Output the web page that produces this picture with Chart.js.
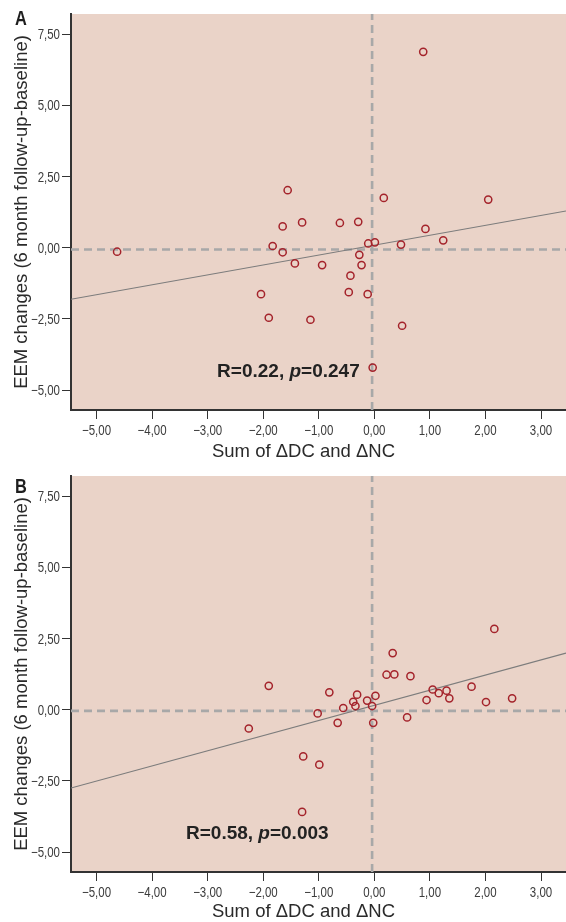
<!DOCTYPE html>
<html>
<head>
<meta charset="utf-8">
<script src="https://cdn.jsdelivr.net/npm/chart.js@4.4.1/dist/chart.umd.min.js"></script>
<style>
  html, body { margin: 0; padding: 0; background: #fff; }
  #wrap { position: relative; width: 566px; height: 922px; }
  .panel { position: absolute; left: 0; width: 566px; }
  #panel-a { top: 0; height: 460px; }
  #panel-b { top: 460px; height: 462px; }
  canvas { display: block; }
</style>
</head>
<body>
<div id="wrap">
  <div class="panel" id="panel-a"><canvas id="chart-a" width="566" height="460"></canvas></div>
  <div class="panel" id="panel-b"><canvas id="chart-b" width="566" height="462"></canvas></div>
</div>
<script>
// Axis ticks and ranges (shared by both panels)
const xTicks = [-5, -4, -3, -2, -1, 0, 1, 2, 3];
const yTicks = [-5, -2.5, 0, 2.5, 5, 7.5];
const xRange = [-5.46, 3.45];
const yRange = [-5.70, 8.21];

// Panel A
const aSumX = [-4.63, -2.04, -1.90, -1.83, -1.65, -1.65, -1.56, -1.43, -1.30, -1.15, -0.94, -0.62, -0.46, -0.43,
  -0.29, -0.27, -0.23, -0.12, -0.11, 0.01, -0.03, 0.17, 0.48, 0.50, 0.88, 0.92, 1.24, 2.05];
const aEem = [-0.14, -1.63, -2.46, 0.06, 0.75, -0.16, 2.02, -0.55, 0.89, -2.53, -0.61, 0.87, -1.56, -0.98,
  0.91, -0.25, -0.61, -1.63, 0.15, 0.19, -4.21, 1.75, 0.11, -2.74, 6.88, 0.66, 0.26, 1.69];
const aFit = [0.348, 0.09];      // slope, intercept
const aMean = [-0.04, -0.06];    // mean x, mean y
const aStats = ['0.22', '0.247']; // R, p

// Panel B
const bSumX = [-2.26, -1.90, -1.30, -1.28, -1.02, -0.99, -0.81, -0.66, -0.56, -0.38, -0.34, -0.31, -0.13, -0.04,
  -0.02, 0.02, 0.22, 0.33, 0.36, 0.59, 0.65, 0.94, 1.05, 1.16, 1.30, 1.35, 1.75, 2.01, 2.16, 2.48];
const bEem = [-0.66, 0.84, -3.59, -1.64, -0.13, -1.93, 0.61, -0.46, 0.06, 0.28, 0.13, 0.53, 0.32, 0.13,
  -0.46, 0.49, 1.23, 1.99, 1.24, -0.27, 1.18, 0.34, 0.71, 0.58, 0.67, 0.40, 0.81, 0.27, 2.84, 0.40];
const bFit = [0.532, 0.155];
const bMean = [-0.04, -0.04];
const bStats = ['0.58', '0.003'];

const xTitle = 'Sum of \u0394DC and \u0394NC';
const yTitle = 'EEM changes (6 month follow-up-baseline)';

(function() {
  'use strict';

  const SANS = '"Liberation Sans", Arial, sans-serif';
  const NARROW = 0.82; // horizontal squeeze to imitate a condensed face
  const PLOT_BG = '#EAD3C8';
  const AXIS = '#333333';
  const POINT = '#A4232B';
  const REF = '#A8A8A8';

  function fmt(v) {
    const s = Math.abs(v).toFixed(2).replace('.', ',');
    return v < 0 ? '\u2212' + s : s;
  }

  function narrowText(ctx, text, x, y) {
    ctx.save();
    ctx.translate(x, y);
    ctx.scale(NARROW, 1);
    ctx.fillText(text, 0, 0);
    ctx.restore();
  }

  // paints the plot background, tick labels and texts of each panel
  const panelPlugin = {
    id: 'panelText',
    beforeDraw(chart) {
      const { ctx, chartArea: a } = chart;
      ctx.save();
      ctx.fillStyle = PLOT_BG;
      ctx.fillRect(a.left, a.top, a.right - a.left, a.bottom - a.top);
      ctx.restore();
    },
    afterDraw(chart, args, o) {
      const { ctx, chartArea: a, scales } = chart;
      ctx.save();

      // tick labels
      ctx.fillStyle = '#3c3c3c';
      ctx.font = '14px ' + SANS;
      ctx.textBaseline = 'alphabetic';
      ctx.textAlign = 'center';
      scales.x.ticks.forEach(t => {
        narrowText(ctx, fmt(t.value), scales.x.getPixelForValue(t.value), a.bottom + 25);
      });
      ctx.textAlign = 'right';
      scales.y.ticks.forEach(t => {
        narrowText(ctx, fmt(t.value), 60, scales.y.getPixelForValue(t.value) + 5);
      });

      // panel letter
      ctx.fillStyle = '#1e1e1e';
      ctx.font = 'bold 20px ' + SANS;
      ctx.textAlign = 'left';
      narrowText(ctx, o.letter, 15, o.letterBase);

      // axis titles
      ctx.fillStyle = '#2a2a2a';
      ctx.font = '18.5px ' + SANS;
      ctx.textAlign = 'center';
      ctx.fillText(xTitle, 303.5, a.bottom + o.xTitleGap);
      ctx.save();
      ctx.translate(26.7, (a.top + a.bottom) / 2);
      ctx.rotate(-Math.PI / 2);
      ctx.fillText(yTitle, 0, 0);
      ctx.restore();

      // R / p annotation
      const x0 = scales.x.getPixelForValue(o.statX);
      const y0 = scales.y.getPixelForValue(o.statY);
      ctx.fillStyle = '#222';
      ctx.textAlign = 'left';
      ctx.textBaseline = 'middle';
      const parts = [
        ['bold 19px ' + SANS, 'R=' + o.stats[0] + ', '],
        ['italic bold 19px ' + SANS, 'p'],
        ['bold 19px ' + SANS, '=' + o.stats[1]]
      ];
      let x = x0;
      parts.forEach(p => {
        ctx.font = p[0];
        ctx.fillText(p[1], x, y0);
        x += ctx.measureText(p[1]).width;
      });
      ctx.restore();
    }
  };

  function makeChart(id, xs, ys, fit, mean, stats, opts) {
    const ctx = document.getElementById(id).getContext('2d');
    const points = xs.map((x, i) => ({ x: x, y: ys[i] }));
    const fitLine = xRange.map(x => ({ x: x, y: fit[0] * x + fit[1] }));
    const meanH = xRange.map(x => ({ x: x, y: mean[1] }));
    const meanV = yRange.map(y => ({ x: mean[0], y: y }));

    return new Chart(ctx, {
      type: 'scatter',
      data: {
        datasets: [
          {
            data: meanH, showLine: true, pointRadius: 0, borderColor: REF,
            borderWidth: 2.6, borderDash: [8, 5], order: 3
          },
          {
            data: meanV, showLine: true, pointRadius: 0, borderColor: REF,
            borderWidth: 2.6, borderDash: [8, 5], order: 3
          },
          {
            data: fitLine, showLine: true, pointRadius: 0, borderColor: '#7c7c7c',
            borderWidth: 1.2, order: 2
          },
          {
            data: points, showLine: false, pointRadius: 3.6, pointHoverRadius: 3.6,
            pointBorderWidth: 1.5, borderColor: POINT, pointBorderColor: POINT,
            backgroundColor: 'rgba(0,0,0,0)', pointBackgroundColor: 'rgba(0,0,0,0)', order: 1
          }
        ]
      },
      options: {
        responsive: false,
        animation: false,
        layout: { autoPadding: false, padding: { top: opts.top, left: 0, right: 0, bottom: 0 } },
        plugins: {
          legend: { display: false },
          tooltip: { enabled: false },
          panelText: {
            letter: opts.letter, letterBase: opts.letterBase, xTitleGap: opts.xTitleGap,
            statX: opts.statX, statY: opts.statY, stats: stats
          }
        },
        scales: {
          x: {
            type: 'linear',
            min: xRange[0], max: xRange[1],
            afterBuildTicks: s => { s.ticks = xTicks.map(v => ({ value: v })); },
            afterFit: s => { s.height = opts.xHeight; s.paddingLeft = 0; s.paddingRight = 0; },
            border: { display: true, color: AXIS, width: 2 },
            grid: { drawOnChartArea: false, drawTicks: true, tickLength: 9, color: AXIS, lineWidth: 1 },
            ticks: { display: false }
          },
          y: {
            type: 'linear',
            min: yRange[0], max: yRange[1],
            afterBuildTicks: s => { s.ticks = yTicks.map(v => ({ value: v })); },
            afterFit: s => { s.width = 71; s.paddingTop = 0; s.paddingBottom = 0; },
            border: { display: true, color: AXIS, width: 2 },
            grid: { drawOnChartArea: false, drawTicks: true, tickLength: 9, color: AXIS, lineWidth: 1 },
            ticks: { display: false }
          }
        }
      },
      plugins: [panelPlugin]
    });
  }

  makeChart('chart-a', aSumX, aEem, aFit, aMean, aStats,
    { top: 14, xHeight: 50, letter: 'A', letterBase: 25, xTitleGap: 47.3, statX: -2.83, statY: -4.35 });
  makeChart('chart-b', bSumX, bEem, bFit, bMean, bStats,
    { top: 16, xHeight: 50, letter: 'B', letterBase: 33, xTitleGap: 45, statX: -3.39, statY: -4.36 });
})();
</script>
</body>
</html>
